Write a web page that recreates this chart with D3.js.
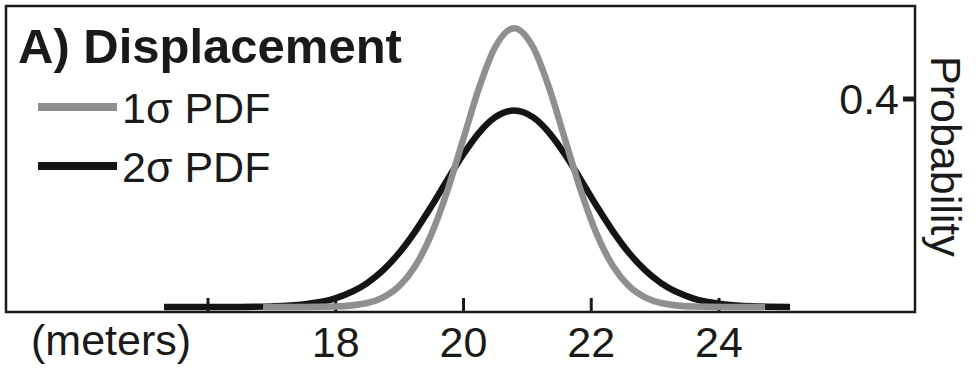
<!DOCTYPE html>
<html>
<head>
<meta charset="utf-8">
<script src="https://cdn.jsdelivr.net/npm/d3@7"></script>
<style>
  body { margin: 0; background: #fff; }
  text { font-family: "Liberation Sans", Arial, sans-serif; fill: #1a1a1a; }
</style>
</head>
<body>
<script>
//tick values and labels
var xTicks = [16, 18, 20, 22, 24];
var xTickLabels = ["", "18", "20", "22", "24"];
var yTicks = [0.4];

//1 sigma pdf
var pdf1X = [16.87, 17.5, 18, 18.5, 18.75, 19, 19.25, 19.5, 19.75, 20, 20.25, 20.5, 20.8,
    21.1, 21.35, 21.6, 21.85, 22.1, 22.35, 22.6, 22.85, 23.1, 23.6, 24.1, 24.73];
var pdf1Y = [0, 0.0001, 0.001, 0.0077, 0.0185, 0.0399, 0.0781, 0.1381, 0.2212, 0.3204, 0.4199, 0.4978, 0.535,
    0.4978, 0.4199, 0.3204, 0.2212, 0.1381, 0.0781, 0.0399, 0.0185, 0.0077, 0.001, 0.0001, 0];

//2 sigma pdf
var pdf2X = [15.32, 16, 16.5, 17, 17.5, 18, 18.5, 18.75, 19, 19.25, 19.5, 19.75, 20, 20.25, 20.5, 20.8,
    21.1, 21.35, 21.6, 21.85, 22.1, 22.35, 22.6, 22.85, 23.1, 23.6, 24.1, 24.6, 25.12];
var pdf2Y = [0, 0, 0.0002, 0.0012, 0.0049, 0.0166, 0.0458, 0.0706, 0.1036, 0.1447, 0.1922, 0.2429, 0.2921, 0.3342, 0.3637, 0.377,
    0.3637, 0.3342, 0.2921, 0.2429, 0.1922, 0.1447, 0.1036, 0.0706, 0.0458, 0.0166, 0.0049, 0.0012, 0];

var width = 979,
    height = 369;

var svg = d3.select("body")
    .append("svg")
    .attr("width", width)
    .attr("height", height);

//scales, 16..24 along the bottom, 0 sits a little above the frame bottom
var x = d3.scaleLinear().domain([16, 24]).range([207.5, 718.5]);
var y = d3.scaleLinear().domain([0, 0.4]).range([307, 98.5]);

var frame = { left: 6, top: 6, right: 915, bottom: 312 };

//frame
svg.append("rect")
    .attr("x", frame.left)
    .attr("y", frame.top)
    .attr("width", frame.right - frame.left)
    .attr("height", frame.bottom - frame.top)
    .attr("fill", "none")
    .attr("stroke", "#1a1a1a")
    .attr("stroke-width", 2.5);

//x axis, ticks pointing up into the plot
var xAxis = svg.append("g")
    .attr("transform", "translate(0," + frame.bottom + ")")
    .call(d3.axisBottom(x)
        .tickValues(xTicks)
        .tickSize(-14)
        .tickFormat(function(d, i) { return xTickLabels[i]; }));
xAxis.select(".domain").remove();
xAxis.selectAll(".tick line").attr("stroke", "#1a1a1a").attr("stroke-width", 3);
xAxis.selectAll(".tick text")
    .attr("y", 45)
    .attr("dy", 0)
    .style("font-size", "43px")
    .style("font-family", "'Liberation Sans', Arial, sans-serif")
    .attr("fill", "#1a1a1a");

svg.append("text")
    .attr("x", 31)
    .attr("y", 355)
    .style("font-size", "43px")
    .text("(meters)");

//y axis on the right edge, label sits inside the frame
var yAxis = svg.append("g")
    .attr("transform", "translate(" + frame.right + ",0)")
    .call(d3.axisLeft(y)
        .tickValues(yTicks)
        .tickSize(12)
        .tickPadding(4)
        .tickFormat(d3.format(".1f")));
yAxis.select(".domain").remove();
yAxis.selectAll(".tick line").attr("stroke", "#1a1a1a").attr("stroke-width", 5);
yAxis.selectAll(".tick text")
    .attr("dy", "0.36em")
    .style("font-size", "43px")
    .style("font-family", "'Liberation Sans', Arial, sans-serif")
    .attr("fill", "#1a1a1a");

svg.append("text")
    .attr("transform", "translate(931,56) rotate(90)")
    .style("font-size", "43px")
    .text("Probability");

//curves go over the ticks
var line = d3.line()
    .x(function(d) { return x(d[0]); })
    .y(function(d) { return y(d[1]); })
    .curve(d3.curveMonotoneX);

svg.append("path")
    .datum(d3.zip(pdf2X, pdf2Y))
    .attr("d", line)
    .attr("fill", "none")
    .attr("stroke", "#141414")
    .attr("stroke-width", 6.5);

svg.append("path")
    .datum(d3.zip(pdf1X, pdf1Y))
    .attr("d", line)
    .attr("fill", "none")
    .attr("stroke", "#8f8f8f")
    .attr("stroke-width", 6.5);

//title and legend
svg.append("text")
    .attr("x", 18)
    .attr("y", 63)
    .style("font-size", "49px")
    .style("font-weight", "bold")
    .text("A) Displacement");

var legend = [
    { label: "1σ PDF", color: "#8f8f8f", y: 107 },
    { label: "2σ PDF", color: "#141414", y: 166 }
];

var items = svg.selectAll(".legend")
    .data(legend)
    .enter()
    .append("g")
    .attr("class", "legend");

items.append("line")
    .attr("x1", 38)
    .attr("x2", 117)
    .attr("y1", function(d) { return d.y; })
    .attr("y2", function(d) { return d.y; })
    .attr("stroke", function(d) { return d.color; })
    .attr("stroke-width", 8);

items.append("text")
    .attr("x", 122)
    .attr("y", function(d) { return d.y + 16; })
    .style("font-size", "43px")
    .text(function(d) { return d.label; });
</script>
</body>
</html>
